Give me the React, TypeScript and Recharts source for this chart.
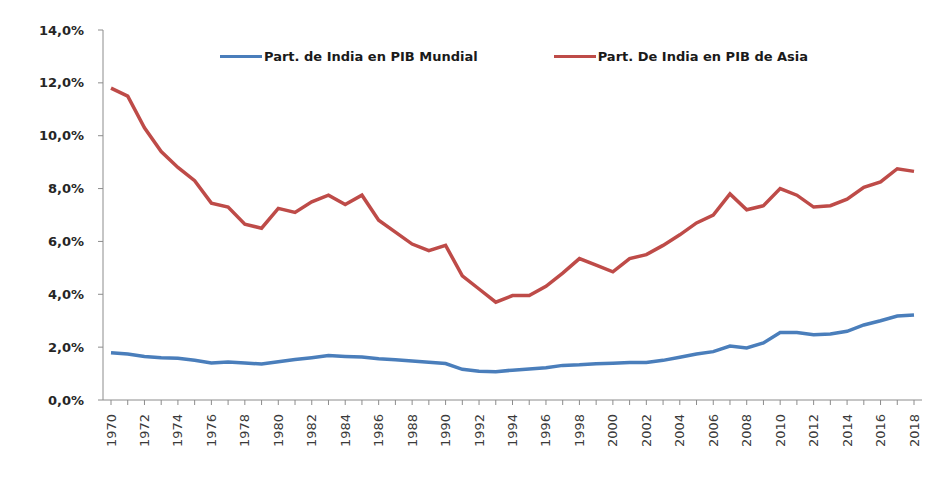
import { LineChart, Line, XAxis, YAxis } from "recharts";

const years = [
  1970, 1971, 1972, 1973, 1974, 1975, 1976, 1977, 1978, 1979,
  1980, 1981, 1982, 1983, 1984, 1985, 1986, 1987, 1988, 1989,
  1990, 1991, 1992, 1993, 1994, 1995, 1996, 1997, 1998, 1999,
  2000, 2001, 2002, 2003, 2004, 2005, 2006, 2007, 2008, 2009,
  2010, 2011, 2012, 2013, 2014, 2015, 2016, 2017, 2018,
];

const shareWorld = [
  1.79, 1.74, 1.65, 1.6, 1.58, 1.5, 1.4, 1.44, 1.4, 1.36,
  1.45, 1.53, 1.6, 1.68, 1.65, 1.63, 1.56, 1.52, 1.48, 1.43,
  1.38, 1.16, 1.09, 1.07, 1.13, 1.17, 1.22, 1.31, 1.33, 1.37,
  1.39, 1.42, 1.42, 1.5, 1.62, 1.74, 1.83, 2.04, 1.97, 2.16,
  2.55, 2.55, 2.47, 2.5, 2.6, 2.84, 3.0, 3.18, 3.22,
];

const shareAsia = [
  11.8, 11.5, 10.3, 9.4, 8.8, 8.3, 7.45, 7.3, 6.65, 6.5,
  7.25, 7.1, 7.5, 7.75, 7.4, 7.75, 6.8, 6.35, 5.9, 5.65,
  5.85, 4.7, 4.2, 3.7, 3.95, 3.95, 4.3, 4.8, 5.35, 5.1,
  4.85, 5.35, 5.5, 5.85, 6.25, 6.7, 7.0, 7.8, 7.2, 7.35,
  8.0, 7.75, 7.3, 7.35, 7.6, 8.05, 8.25, 8.75, 8.65,
];

const yTicks = [0, 2, 4, 6, 8, 10, 12, 14];

const series = [
  { key: "world", name: "Part. de India en PIB Mundial", color: "#4A7EBB" },
  { key: "asia", name: "Part. De India en PIB de Asia", color: "#BE4B48" },
];

const data = years.map((year, i) => ({
  year,
  world: shareWorld[i],
  asia: shareAsia[i],
}));

const FONT = '"DejaVu Sans", Verdana, sans-serif';

function YearTick(props: any) {
  const { x, y, payload } = props;
  if (payload.value % 2 !== 0) return null;
  const ty = y + 7;
  return (
    <text
      x={x}
      y={ty}
      dy={4.5}
      transform={`rotate(-90, ${x}, ${ty})`}
      textAnchor="end"
      fontSize={13}
      fontFamily={FONT}
      fill="#3a3a3a"
    >
      {payload.value}
    </text>
  );
}

export default function App() {
  return (
    <div
      style={{
        position: "absolute",
        left: 0,
        top: 0,
        width: 939,
        height: 477,
        background: "#fff",
      }}
    >
      <LineChart
        width={939}
        height={477}
        data={data}
        margin={{ top: 30, right: 17, bottom: 0, left: 0 }}
      >
        <XAxis
          dataKey="year"
          interval={0}
          height={77}
          padding={{ left: 8, right: 8 }}
          tick={<YearTick />}
          tickSize={5}
          axisLine={{ stroke: "#8c8c8c" }}
          tickLine={{ stroke: "#8c8c8c" }}
        />
        <YAxis
          width={103}
          domain={[0, 14]}
          ticks={yTicks}
          interval={0}
          tickSize={5}
          tickMargin={14}
          axisLine={{ stroke: "#8c8c8c" }}
          tickLine={{ stroke: "#8c8c8c" }}
          tick={{ fontSize: 13, fontWeight: "bold", fill: "#262626", fontFamily: FONT }}
          tickFormatter={(v) => `${Number(v).toFixed(1).replace(".", ",")}%`}
        />
        {series.map((s) => (
          <Line
            key={s.key}
            type="linear"
            dataKey={s.key}
            name={s.name}
            stroke={s.color}
            strokeWidth={3.5}
            dot={false}
            isAnimationActive={false}
          />
        ))}
      </LineChart>
      <div
        style={{
          position: "absolute",
          top: 49,
          left: 220,
          display: "flex",
          fontFamily: FONT,
          fontWeight: "bold",
          fontSize: 13,
          color: "#1a1a1a",
        }}
      >
        {series.map((s, i) => (
          <div
            key={s.key}
            style={{
              display: "flex",
              alignItems: "center",
              marginRight: i === 0 ? 76 : 0,
            }}
          >
            <span
              style={{
                display: "inline-block",
                width: 42,
                height: 3,
                background: s.color,
                marginRight: 2,
              }}
            />
            <span>{s.name}</span>
          </div>
        ))}
      </div>
    </div>
  );
}
